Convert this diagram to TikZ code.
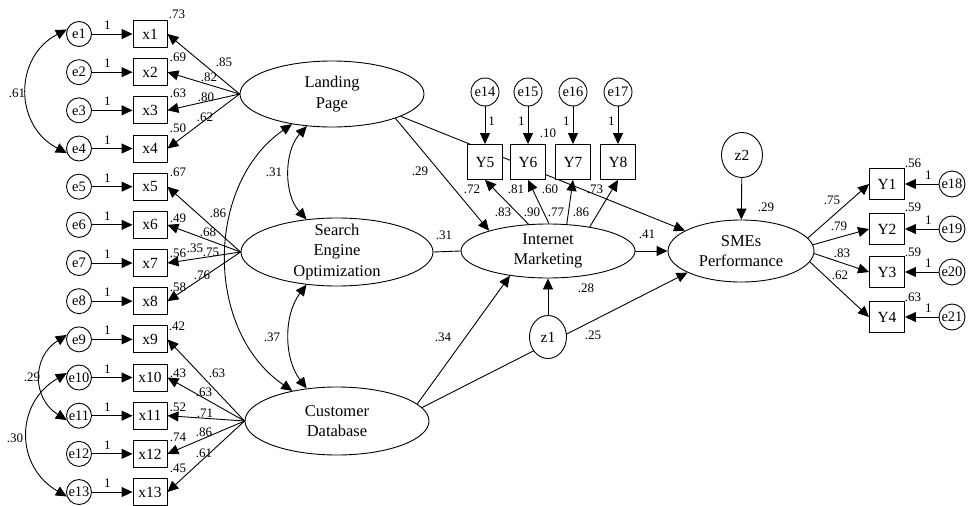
\documentclass[tikz,border=0pt]{standalone}
\usepackage{fontspec}
\setmainfont{Liberation Serif}
\usetikzlibrary{arrows.meta,positioning,shapes.geometric}

\tikzset{
  obs/.style={draw, fill=white, inner sep=0pt, minimum width=34pt, minimum height=27pt, font=\fontsize{15.5}{17}\selectfont},
  err/.style={draw, circle, fill=white, inner sep=0pt, minimum size=25pt, font=\fontsize{14.5}{16}\selectfont},
  lat/.style={draw, ellipse, fill=white, inner sep=0pt},
  lattext/.style={align=center, inner sep=0pt, font=\fontsize{16.5}{20.5}\selectfont},
  coef/.style={inner sep=0pt, font=\fontsize{13}{15}\selectfont},
  reg/.style={-{Triangle[length=11pt,width=10pt]}},
  cov/.style={{Triangle[length=11pt,width=10pt]}-{Triangle[length=11pt,width=10pt]}},
}

\begin{document}
\begin{tikzpicture}[x=1pt,y=1pt,line width=0.9pt]
  \useasboundingbox (0,0) rectangle (970,-506);

  \node[lat, minimum width=184pt, minimum height=66pt, label={[lattext]center:{Landing\\Page}}] (lp) at (332,-94) {};
  \node[lat, minimum width=192pt, minimum height=68pt, label={[lattext]center:{Search\\Engine\\Optimization}}] (seo) at (337,-252) {};
  \node[lat, minimum width=184pt, minimum height=68pt, label={[lattext]center:{Customer\\Database}}] (cd) at (337,-421) {};
  \node[lat, minimum width=174pt, minimum height=54pt, label={[lattext]center:{Internet\\Marketing}}] (im) at (548,-251) {};
  \node[lat, minimum width=146pt, minimum height=62pt, label={[lattext]center:{SMEs\\Performance}}] (smes) at (741,-251) {};

  \foreach \i [evaluate=\i as \yy using -34-(\i-1)*38.17] in {1,...,13} {
    \node[err] (e\i) at (79,\yy) {e\i};
    \node[obs] (x\i) at (150,\yy) {x\i};
    \draw[reg] (e\i) -- node[coef, above=4pt, pos=.38] {1} (x\i);
  }
  \foreach \i in {1,...,4} \draw[reg] (lp.west) -- (x\i.east);
  \foreach \i in {5,...,8} \draw[reg] (seo.west) -- (x\i.east);
  \foreach \i in {9,...,13} \draw[reg] (cd.west) -- (x\i.east);

  \draw[cov] (e1.160) .. controls +(-53,-27) and +(-53,27) .. (e4.200);
  \draw[cov] (e9.160) .. controls +(-35,-22) and +(-35,22) .. (e11.200);
  \draw[cov] (e10.160) .. controls +(-52,-30) and +(-52,30) .. (e13.200);

  \draw[cov] (lp.232) .. controls +(-23,-25) and +(-23,25) .. (seo.133);
  \draw[cov] (seo.227) .. controls +(-23,-30) and +(-23,30) .. (cd.133);
  \draw[cov] (lp.217) .. controls +(-87,-60) and +(-88,60) .. (cd.146);

  \draw[reg] (lp.-21) -- (im.161);
  \draw[reg] (lp.-18) -- (smes.160);
  \draw (seo.east) -- (im.west);
  \draw[reg] (cd.12) -- (im.213);
  \draw[reg] (cd.9) -- (smes.202);
  \draw[reg] (im.east) -- (smes.west);

  \foreach \i/\xx in {5/485,6/528,7/573,8/618}
    \node[obs, minimum width=35pt, minimum height=35pt] (y\i) at (\xx,-162) {Y\i};
  \foreach \i/\xx in {14/485,15/528,16/573,17/618}
    \node[err, minimum size=28pt] (e\i) at (\xx,-92) {e\i};
  \draw[reg] (e14) -- node[coef, right=3pt, pos=.4] {1} (y5);
  \foreach \i/\j in {15/6,16/7,17/8}
    \draw[reg] (e\i) -- node[coef, left=3pt, pos=.4] {1} (y\j);
  \foreach \a/\j in {126/5,88/6,55/7,30/8}
    \draw[reg] (im.\a) -- (y\j.south);

  \node[lat, minimum width=37pt, minimum height=43pt, font=\fontsize{15.5}{17}\selectfont] (z1) at (548,-337) {z1};
  \node[lat, minimum width=41pt, minimum height=45pt, font=\fontsize{15.5}{17}\selectfont] (z2) at (742,-155) {z2};
  \draw[reg] (z1) -- (im);
  \draw[reg] (z2) -- (smes);

  \foreach \i/\j/\yy/\a in {1/18/184/11,2/19/229/5,3/20/272/-2,4/21/317/-9} {
    \node[obs, minimum width=35pt, minimum height=31pt] (y\i) at (887,-\yy) {Y\i};
    \node[err, minimum size=26pt] (e\j) at (952,-\yy) {e\j};
    \draw[reg] (smes.\a) -- (y\i.west);
    \draw[reg] (e\j) -- node[coef, above=4pt, pos=.3] {1} (y\i);
  }

  \foreach \xx/\yy/\t [count=\k] in {
    177/14/.73, 178/57/.69, 178/93/.63, 178/128/.50, 178/172/.67, 178/218/.49, 178/253/.56,
    178/287/.58, 177/326/.42, 178/373/.43, 178/407/.52, 178/437/.74, 178/468/.45,
    224/62/.85, 209/77/.82, 206/97/.80, 205/117/.62,
    218/213/.86, 208/232/.68, 211/252/.75, 202/275/.76, 195/248/.35,
    217/373/.63, 204/392/.63, 205/413/.71, 204/432/.86, 204/453/.61,
    17/93/.61, 32/377/.29, 15/438/.30, 274/172/.31, 272/337/.37,
    420/171/.29, 444/235/.31, 443/337/.34, 593/335/.25, 586/288/.28, 647/234/.41,
    548/133/.10, 472/189/.72, 516/189/.81, 550/189/.60, 595/189/.73,
    503/212/.83, 532/212/.90, 556/212/.77, 581/212/.86,
    766/207/.29, 832/200/.75, 839/226/.79, 842/253/.83, 840/275/.62,
    913/163/.56, 913/207/.59, 913/252/.59, 913/297/.63}
    \node[coef] (c\k) at (\xx,-\yy) {\t};
\end{tikzpicture}
\end{document}
